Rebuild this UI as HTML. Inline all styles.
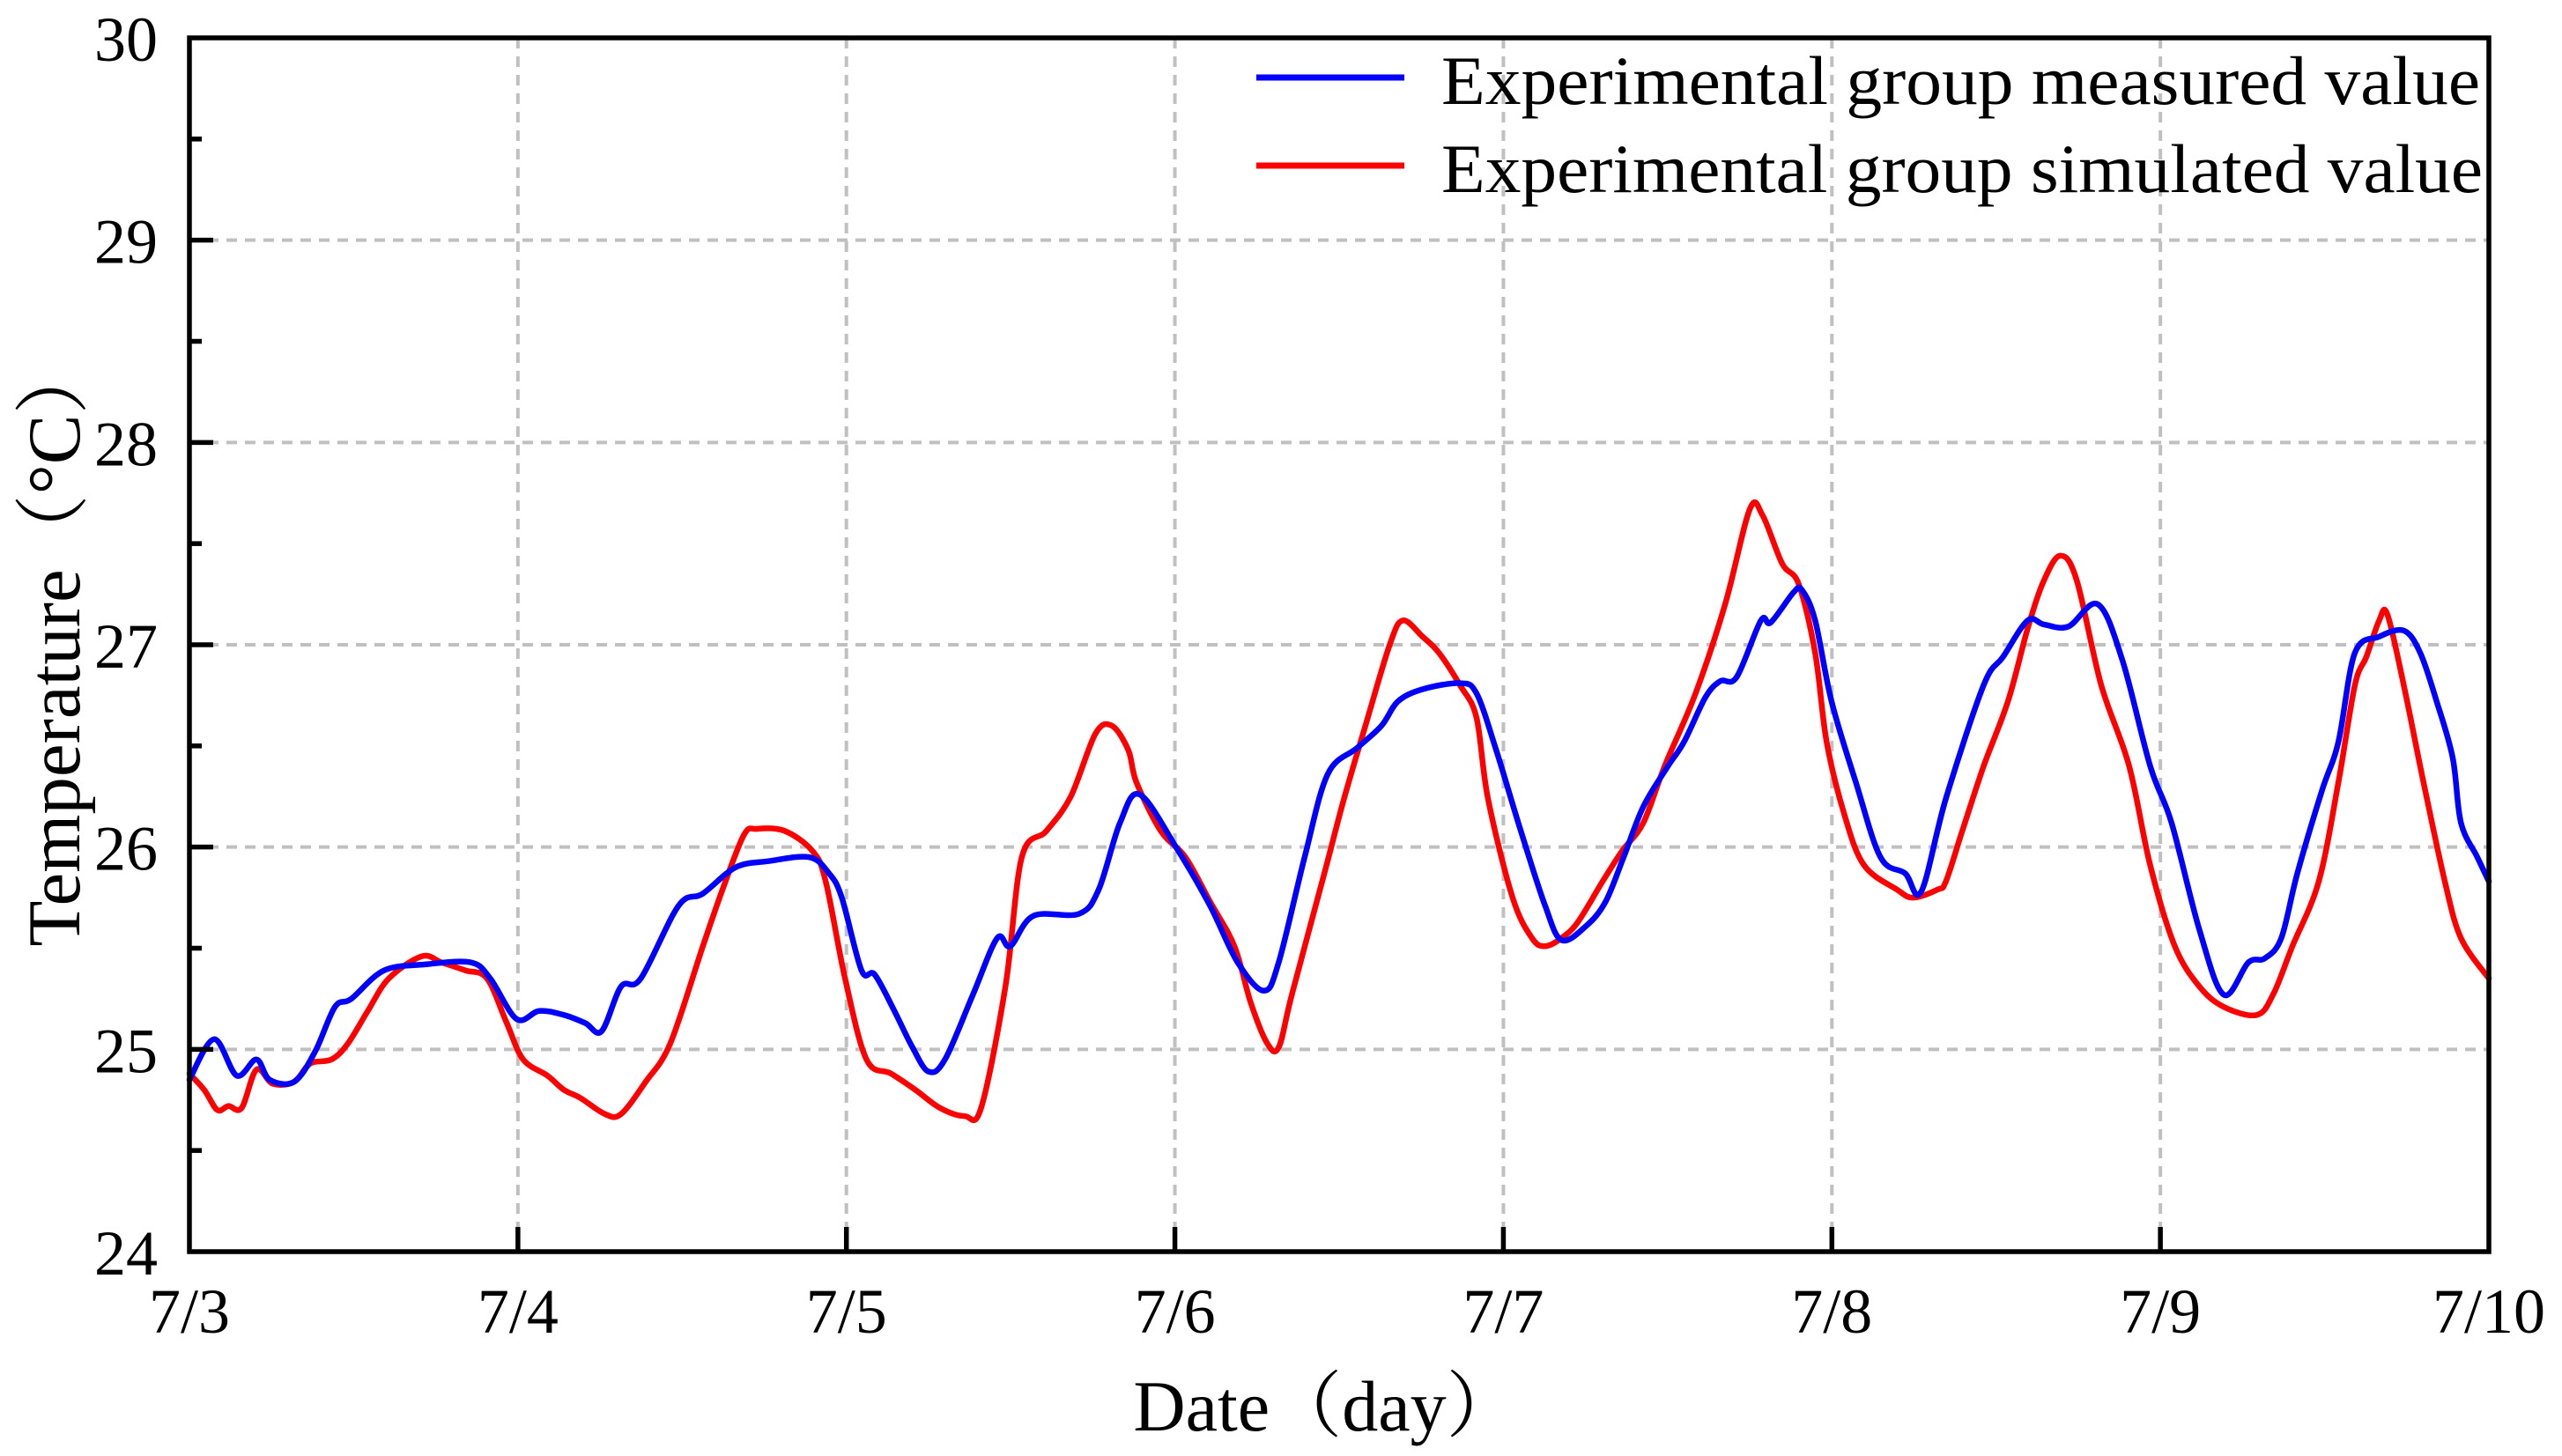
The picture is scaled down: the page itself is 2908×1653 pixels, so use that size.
<!DOCTYPE html>
<html>
<head>
<meta charset="utf-8">
<style>
  html,body{margin:0;padding:0;background:#fff;}
  svg{display:block;}
  text{font-family:"Liberation Serif","Noto Serif CJK SC",serif;fill:#000;}
</style>
</head>
<body>
<svg id="chart" xmlns="http://www.w3.org/2000/svg" width="2908" height="1653" viewBox="0 0 2908 1653">
  <rect x="0" y="0" width="2908" height="1653" fill="#fff"/>
  <g id="grid"></g>
  <g id="series"></g>
  <g id="axes"></g>
  <g id="legend">
    <line x1="1426" y1="88" x2="1594" y2="88" stroke="#0000ff" stroke-width="7"/>
    <text x="1636" y="118" font-size="78" textLength="1179" lengthAdjust="spacingAndGlyphs">Experimental group measured value</text>
    <line x1="1426" y1="188" x2="1594" y2="188" stroke="#ff0000" stroke-width="7"/>
    <text x="1636" y="218" font-size="78" textLength="1182" lengthAdjust="spacingAndGlyphs">Experimental group simulated value</text>
  </g>
  <text x="90" y="730" font-size="85" text-anchor="middle" transform="rotate(-90 90 730)">Temperature（°C）</text>
  <text x="1505" y="1624" font-size="82" text-anchor="middle">Date（day）</text>
</svg>
<script>
// ---- data ----
const xTickLabels = ["7/3","7/4","7/5","7/6","7/7","7/8","7/9","7/10"];
const yTickLabels = ["24","25","26","27","28","29","30"];
const yTickValues = [24,25,26,27,28,29,30];

const measuredDays = [0,0.075,0.144,0.204,0.244,0.319,0.383,0.443,0.493,0.592,0.717,0.856,0.916,0.996,1.065,1.14,1.205,1.255,1.314,1.374,1.489,1.563,1.663,1.762,1.887,1.947,1.986,2.046,2.086,2.146,2.201,2.25,2.3,2.385,2.459,2.499,2.569,2.708,2.768,2.833,2.893,3.007,3.107,3.191,3.271,3.316,3.395,3.465,3.555,3.629,3.679,3.754,3.868,3.918,3.978,4.053,4.127,4.177,4.252,4.311,4.366,4.426,4.501,4.55,4.615,4.66,4.71,4.784,4.814,4.884,4.909,4.949,4.999,5.073,5.148,5.223,5.272,5.347,5.462,5.521,5.596,5.646,5.72,5.81,5.885,5.969,6.034,6.119,6.193,6.268,6.318,6.368,6.417,6.492,6.542,6.592,6.666,6.741,6.791,6.841,6.89,6.915,6.965,7.0];
const measuredTemps = [24.85,25.05,24.87,24.95,24.85,24.84,24.99,25.21,25.25,25.39,25.42,25.43,25.35,25.15,25.19,25.17,25.13,25.09,25.31,25.35,25.71,25.77,25.9,25.93,25.95,25.87,25.75,25.39,25.37,25.19,25.01,24.89,24.95,25.27,25.55,25.51,25.66,25.67,25.79,26.12,26.26,25.99,25.71,25.43,25.29,25.43,25.95,26.36,26.49,26.6,26.72,26.78,26.81,26.76,26.48,26.08,25.71,25.54,25.61,25.73,25.95,26.2,26.4,26.52,26.74,26.82,26.84,27.12,27.11,27.26,27.27,27.12,26.72,26.32,25.95,25.87,25.78,26.24,26.8,26.94,27.12,27.1,27.09,27.2,26.92,26.4,26.12,25.59,25.27,25.43,25.45,25.55,25.87,26.28,26.52,26.96,27.04,27.07,26.96,26.72,26.44,26.12,25.95,25.83];

const simulatedDays = [0,0.045,0.085,0.119,0.159,0.204,0.254,0.319,0.368,0.433,0.483,0.543,0.607,0.707,0.767,0.841,0.906,0.966,1.016,1.09,1.14,1.19,1.265,1.314,1.389,1.464,1.563,1.623,1.688,1.728,1.812,1.897,1.937,1.996,2.061,2.136,2.21,2.285,2.36,2.41,2.484,2.534,2.609,2.683,2.758,2.808,2.858,2.883,2.957,3.032,3.107,3.181,3.231,3.281,3.316,3.356,3.455,3.515,3.58,3.654,3.694,3.754,3.804,3.868,3.918,3.953,4.028,4.087,4.127,4.177,4.227,4.302,4.361,4.426,4.491,4.585,4.675,4.75,4.789,4.849,4.899,4.949,4.984,5.038,5.098,5.198,5.247,5.322,5.347,5.397,5.462,5.536,5.596,5.646,5.696,5.745,5.82,5.905,5.969,6.044,6.119,6.193,6.293,6.343,6.402,6.482,6.542,6.592,6.627,6.666,6.691,6.741,6.801,6.866,6.915,7.0];
const simulatedTemps = [24.88,24.8,24.7,24.72,24.71,24.9,24.83,24.84,24.93,24.95,25.03,25.19,25.35,25.46,25.43,25.39,25.35,25.13,24.95,24.87,24.8,24.76,24.68,24.68,24.84,25.03,25.51,25.79,26.06,26.09,26.08,25.98,25.83,25.35,24.95,24.88,24.8,24.71,24.67,24.71,25.31,25.95,26.08,26.25,26.56,26.6,26.48,26.32,26.08,25.95,25.73,25.51,25.23,25.03,25.01,25.27,25.87,26.24,26.6,27.0,27.12,27.04,26.96,26.8,26.64,26.24,25.75,25.55,25.51,25.55,25.63,25.83,25.98,26.12,26.4,26.76,27.2,27.67,27.64,27.4,27.3,26.96,26.52,26.16,25.91,25.79,25.75,25.79,25.83,26.08,26.4,26.72,27.08,27.32,27.44,27.32,26.8,26.4,25.91,25.51,25.31,25.21,25.17,25.27,25.51,25.83,26.32,26.8,26.94,27.12,27.15,26.8,26.32,25.83,25.55,25.35];

// ---- scales ----
const X0 = 215, X1 = 2825, Y0 = 1421, Y1 = 43;
const xMin = 0, xMax = 7, yMin = 24, yMax = 30;
function xScale(d){ return X0 + (d - xMin) / (xMax - xMin) * (X1 - X0); }
function yScale(v){ return Y0 - (v - yMin) / (yMax - yMin) * (Y0 - Y1); }

const NS = "http://www.w3.org/2000/svg";
function mk(tag, attrs){ const e = document.createElementNS(NS, tag); for (const k in attrs) e.setAttribute(k, attrs[k]); return e; }

// ---- grid ----
const grid = document.getElementById("grid");
for (let i = 1; i < xTickLabels.length - 1; i++) {
  const x = xScale(i);
  const g = mk("line", {x1:x, y1:Y1, x2:x, y2:Y0, stroke:"#c0c0c0", "stroke-width":4, "stroke-dasharray":"12 9"});
  
  
  grid.appendChild(g);
}
for (let i = 1; i < yTickValues.length - 1; i++) {
  const y = yScale(yTickValues[i]);
  const g = mk("line", {x1:X0, y1:y, x2:X1, y2:y, stroke:"#c0c0c0", "stroke-width":4, "stroke-dasharray":"12 9"});
  
  
  grid.appendChild(g);
}

// ---- series (smooth Catmull-Rom) ----
function smoothPath(days, temps){
  const p = days.map((d,i)=>[xScale(d), yScale(temps[i])]);
  let s = "M" + p[0][0].toFixed(1) + "," + p[0][1].toFixed(1);
  for (let i = 0; i < p.length - 1; i++) {
    const a = p[Math.max(0,i-1)], b = p[i], c = p[i+1], d = p[Math.min(p.length-1,i+2)];
    const c1x = b[0] + (c[0]-a[0])/6, c1y = b[1] + (c[1]-a[1])/6;
    const c2x = c[0] - (d[0]-b[0])/6, c2y = c[1] - (d[1]-b[1])/6;
    s += "C" + c1x.toFixed(1) + "," + c1y.toFixed(1) + " " + c2x.toFixed(1) + "," + c2y.toFixed(1) + " " + c[0].toFixed(1) + "," + c[1].toFixed(1);
  }
  return s;
}
const series = document.getElementById("series");
const redLine = mk("path", {d: smoothPath(simulatedDays, simulatedTemps), fill:"none", stroke:"#ff0000", "stroke-width":6.5, "stroke-linejoin":"round", "stroke-linecap":"round"});


series.appendChild(redLine);
const blueLine = mk("path", {d: smoothPath(measuredDays, measuredTemps), fill:"none", stroke:"#0000ff", "stroke-width":6.5, "stroke-linejoin":"round", "stroke-linecap":"round"});


series.appendChild(blueLine);

// ---- axes ----
const axes = document.getElementById("axes");
const frame = mk("rect", {x:X0, y:Y1, width:X1-X0, height:Y0-Y1, fill:"none", stroke:"#000", "stroke-width":5.5});


axes.appendChild(frame);

for (let i = 0; i < xTickLabels.length; i++) {
  const x = xScale(i);
  if (i > 0 && i < xTickLabels.length - 1) {
    const t = mk("line", {x1:x, y1:Y0, x2:x, y2:Y0-28, stroke:"#000", "stroke-width":5.5});
    
    
    axes.appendChild(t);
  }
  const lb = mk("text", {x:x, y:1513, "font-size":72, "text-anchor":"middle"});
  lb.textContent = xTickLabels[i];
  
  
  axes.appendChild(lb);
}
for (let i = 0; i < yTickValues.length; i++) {
  const y = yScale(yTickValues[i]);
  if (i > 0 && i < yTickValues.length - 1) {
    const t = mk("line", {x1:X0, y1:y, x2:X0+27, y2:y, stroke:"#000", "stroke-width":5.5});
    
    
    axes.appendChild(t);
  }
  if (i < yTickValues.length - 1) {
    const ym = yScale(yTickValues[i] + 0.5);
    const m = mk("line", {x1:X0, y1:ym, x2:X0+14, y2:ym, stroke:"#000", "stroke-width":5.5});
    
    
    axes.appendChild(m);
  }
  const lb = mk("text", {x:179, y:y+26, "font-size":72, "text-anchor":"end"});
  lb.textContent = yTickLabels[i];
  
  
  axes.appendChild(lb);
}
</script>
</body>
</html>
